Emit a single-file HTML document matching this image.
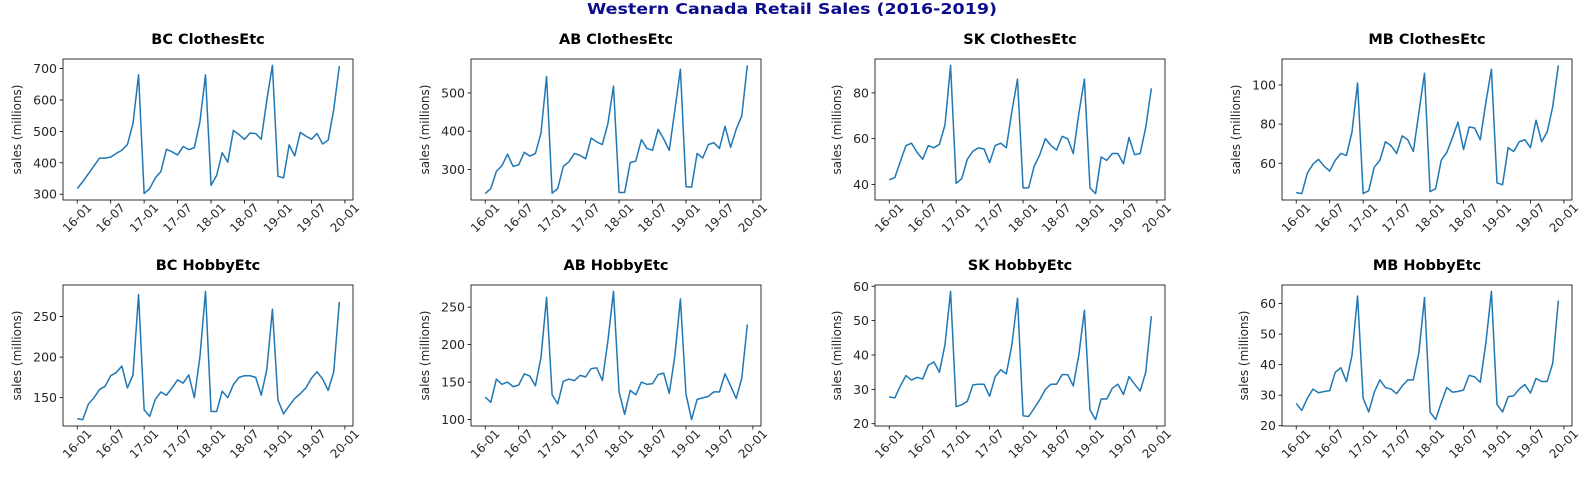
<!DOCTYPE html>
<html><head><meta charset="utf-8">
<style>
html,body{margin:0;padding:0;background:#fff;}
svg{display:block;font-family:"DejaVu Sans","Liberation Sans",sans-serif;}
</style></head>
<body>
<svg id="fig" width="1585" height="478" viewBox="0 0 1585 478" xmlns="http://www.w3.org/2000/svg">
<rect width="1585" height="478" fill="#fff"/>
<text x="792" y="14" text-anchor="middle" font-size="15" font-weight="bold" fill="#0d0d8c" textLength="410" lengthAdjust="spacingAndGlyphs">Western Canada Retail Sales (2016-2019)</text>
</svg>
<script>
const xTickLabels = ["16-01","16-07","17-01","17-07","18-01","18-07","19-01","19-07","20-01"];
const panelTitles = ["BC ClothesEtc","AB ClothesEtc","SK ClothesEtc","MB ClothesEtc","BC HobbyEtc","AB HobbyEtc","SK HobbyEtc","MB HobbyEtc"];
const bcClothes = [318,340,365,390,415,415,418,430,440,458,525,680, 302,318,352,372,443,435,425,452,442,448,530,680, 328,360,432,402,503,490,475,495,493,475,600,710, 357,352,457,422,497,485,475,493,460,472,570,708];
const abClothes = [237,250,295,310,340,308,312,345,335,342,395,543, 238,250,308,320,342,337,328,382,372,365,420,518, 240,240,318,322,378,355,350,405,380,350,455,562, 255,254,342,330,365,370,355,413,358,405,440,572];
const skClothes = [42,43,50,57,58,54,51,57,56,57.5,66,92, 40.5,42.5,51,54.5,56,55.5,49.5,57,58,56,72,86, 38.5,38.5,48,53,60,57,55,61,60,53.5,71,86, 38.5,36,52,50.5,53.5,53.5,49,60.5,53,53.5,65,82];
const mbClothes = [45,44.5,55,59.5,62,58.5,56,61.5,65,64,76,101, 44.5,46,58,61.5,71,69,65,74,72,66,86,106, 45.5,47,61.5,65.5,73,81,67,78.5,78,72,91,108, 50,49,68,66,71,72,68,82,71,76,89,110];
const bcHobby = [124,123,142,150,160,164,177,181,189,162,178,277, 135,127,148,157,153,162,172,168,178,150,200,281, 133,133,158,150,166,175,177,177,175,153,185,259, 147,130,140,149,155,162,174,182,173,159,182,268];
const abHobby = [130,123,154,147,150,144,146,161,158,145,183,263, 133,121,151,154,152,159,157,168,169,152,205,271, 137,107,139,133,150,147,148,160,162,135,185,261, 134,100,127,129,131,137,137,161,145,128,155,227];
const skHobby = [27.8,27.5,31,34,32.7,33.5,33,37,38,35,43,58.5, 25,25.5,26.5,31.3,31.5,31.5,28,33.7,35.7,34.5,43,56.5, 22.3,22.1,24.5,27,30,31.5,31.5,34.3,34.3,31,40,53, 24,21.2,27.2,27.2,30.3,31.5,28.5,33.7,31.5,29.5,35,51.3];
const mbHobby = [27.3,25,29,32,30.8,31.2,31.5,37.5,39,34.5,43,62.5, 29,24.5,31,35,32.5,32,30.5,33,35,35,44,62, 24.5,22,27.5,32.5,31,31.2,31.7,36.5,36,34.2,47,64, 27,24.5,29.5,29.8,32,33.5,30.7,35.5,34.5,34.5,40.5,61];
const yTicksBCC = [300,400,500,600,700];
const yTicksABC = [300,400,500];
const yTicksSKC = [40,60,80];
const yTicksMBC = [60,80,100];
const yTicksBCH = [150,200,250];
const yTicksABH = [100,150,200,250];
const yTicksSKH = [20,30,40,50,60];
const yTicksMBH = [20,30,40,50,60];

const series = [bcClothes,abClothes,skClothes,mbClothes,bcHobby,abHobby,skHobby,mbHobby];
const yTicks = [yTicksBCC,yTicksABC,yTicksSKC,yTicksMBC,yTicksBCH,yTicksABH,yTicksSKH,yTicksMBH];
const colLeft = [63,471,875,1282];
const axW = 290;
const rowTop = [59,285];
const axH = 141;
const NS = "http://www.w3.org/2000/svg";
const svg = document.getElementById('fig');
function mk(tag, attrs, parent){
  const e = document.createElementNS(NS, tag);
  for (const k in attrs) e.setAttribute(k, attrs[k]);
  parent.appendChild(e);
  return e;
}
const xMin = -2.55, xMax = 49.45;
series.forEach((data, p) => {
  const L = colLeft[p % 4], T = rowTop[Math.floor(p / 4)];
  const g = mk('g', {}, svg);
  
  
  const mn = Math.min(...data), mx = Math.max(...data), pad = (mx - mn) * 0.05;
  const y0 = mn - pad, y1 = mx + pad;
  const xs = i => L + (i - xMin) / (xMax - xMin) * axW;
  const ys = v => T + axH - (v - y0) / (y1 - y0) * axH;
  const t = mk('text', {x: L + axW / 2, y: T - 15, 'text-anchor': 'middle', 'font-size': 14.5, 'font-weight': 'bold', fill: '#000'}, g);
  
  
  t.textContent = panelTitles[p];
  // y ticks
  yTicks[p].forEach(v => {
    const y = ys(v);
    const tl = mk('line', {x1: L - 3.5, x2: L, y1: y, y2: y, stroke: '#000', 'stroke-width': 0.8}, g);
    
    
    const tx = mk('text', {x: L - 6, y: y + 4.5, 'text-anchor': 'end', 'font-size': 12.5, fill: '#262626'}, g);
    
    
    tx.textContent = v;
  });
  // x ticks
  xTickLabels.forEach((lab, k) => {
    const x = xs(k * 6);
    const tl = mk('line', {x1: x, x2: x, y1: T + axH, y2: T + axH + 3.5, stroke: '#000', 'stroke-width': 0.8}, g);
    
    
    const cy = T + axH + 18;
    const tx = mk('text', {x: x, y: cy + 4, 'text-anchor': 'middle', 'font-size': 12, fill: '#262626', transform: `rotate(-45 ${x} ${cy})`}, g);
    
    
    tx.textContent = lab;
  });
  // y label
  const ylx = L - (yTicks[p][yTicks[p].length - 1] >= 100 ? 42 : 34), ylc = T + axH / 2;
  const yl = mk('text', {x: ylx, y: ylc, 'text-anchor': 'middle', 'font-size': 12, fill: '#262626', transform: `rotate(-90 ${ylx} ${ylc})`}, g);
  
  
  yl.textContent = 'sales (millions)';
  // line
  const d = data.map((v, i) => (i ? 'L' : 'M') + xs(i).toFixed(2) + ' ' + ys(v).toFixed(2)).join(' ');
  const path = mk('path', {d: d, fill: 'none', stroke: '#1f77b4', 'stroke-width': 1.5, 'stroke-linejoin': 'round'}, g);
  
  
  const box = mk('rect', {x: L, y: T, width: axW, height: axH, fill: 'none', stroke: '#000', 'stroke-width': 0.8}, g);
  
  
});
</script>
</body></html>
